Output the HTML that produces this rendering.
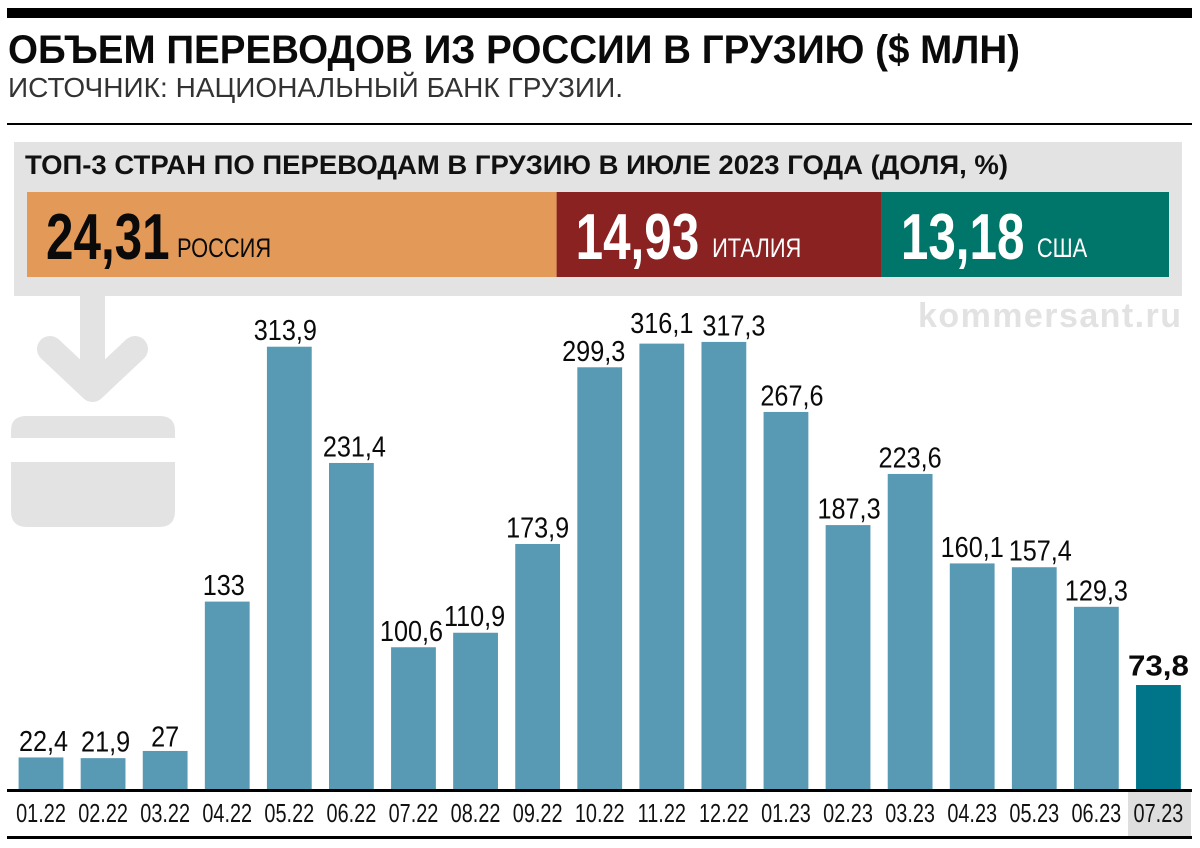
<!DOCTYPE html>
<html lang="ru">
<head>
<meta charset="utf-8">
<title>Объем переводов из России в Грузию</title>
<style>
html,body{margin:0;padding:0;background:#fff;}
svg{display:block;}
text{font-family:"Liberation Sans",sans-serif;}
</style>
</head>
<body>
<svg id="chart" xmlns="http://www.w3.org/2000/svg" width="1200" height="848" viewBox="0 0 1200 848">
  <rect width="1200" height="848" fill="#ffffff"/>
  <rect x="7" y="8" width="1185" height="10" fill="#000"/>
  <text x="8" y="63" font-size="40" font-weight="700" fill="#0a0a0a" textLength="1012" lengthAdjust="spacingAndGlyphs">ОБЪЕМ ПЕРЕВОДОВ ИЗ РОССИИ В ГРУЗИЮ ($ МЛН)</text>
  <text x="8" y="97" font-size="28" fill="#333" textLength="615" lengthAdjust="spacing">ИСТОЧНИК: НАЦИОНАЛЬНЫЙ БАНК ГРУЗИИ.</text>
  <rect x="7" y="123" width="1185" height="2" fill="#000"/>

  <rect x="14" y="142" width="1168" height="154" fill="#e3e3e3"/>
  <text x="25" y="174" font-size="26.5" font-weight="700" fill="#111" textLength="983" lengthAdjust="spacingAndGlyphs">ТОП-3 СТРАН ПО ПЕРЕВОДАМ В ГРУЗИЮ В ИЮЛЕ 2023 ГОДА (ДОЛЯ, %)</text>
  <g id="share-bar"></g>

  <g fill="#e3e3e3">
    <rect x="80" y="296" width="25" height="85"/>
    <polyline points="50,349 92.5,389 135,349" fill="none" stroke="#e3e3e3" stroke-width="26" stroke-linecap="round" stroke-linejoin="round"/>
    <path d="M11 438 V431 Q11 416 26 416 H160 Q175 416 175 431 V438 Z"/>
    <path d="M11 462 H175 V511 Q175 527 159 527 H27 Q11 527 11 511 Z"/>
  </g>

  <text x="918" y="327" font-size="34" font-weight="700" fill="#e2e2e2" textLength="263" lengthAdjust="spacing">kommersant.ru</text>

  <rect x="1128" y="792" width="63" height="44" fill="#dedede"/>
  <g id="bars"></g>
  <g id="value-labels"></g>
  <g id="x-labels"></g>
  <rect x="7" y="789" width="1185" height="3" fill="#000"/>
  <rect x="7" y="836" width="1185" height="3" fill="#000"/>
</svg>
<script>
const categories = ["01.22","02.22","03.22","04.22","05.22","06.22","07.22","08.22","09.22","10.22","11.22","12.22","01.23","02.23","03.23","04.23","05.23","06.23","07.23"];
const transfers = [22.4,21.9,27,133,313.9,231.4,100.6,110.9,173.9,299.3,316.1,317.3,267.6,187.3,223.6,160.1,157.4,129.3,73.8];
const shareValues = [24.31,14.93,13.18];
const shareCountries = ["РОССИЯ","ИТАЛИЯ","США"];

const NS = "http://www.w3.org/2000/svg";
const baseY = 789, pxPerUnit = 1.409;
const firstBarX = 18.6, barStep = 62.08, barW = 44.8;
const yScale = v => baseY - v * pxPerUnit;
const xScale = i => firstBarX + i * barStep;

// Hand-placement of individual value labels, as in the print layout (layout only, keyed by month).
const labelNudgeX = {"01.22":2.5,"02.22":2.5,"04.22":-3.5,"05.22":-4,"06.22":3,"07.22":-2,"08.22":-1,"10.22":-6,"12.22":10,"01.23":6,"02.23":1,"05.23":6};
const labelRaise = {"03.22":-2,"11.22":4,"07.23":3};

const shareX0 = 27, shareW = 1142, shareY = 192, shareH = 85;
const shareTotal = shareValues.reduce((a, b) => a + b, 0);
const shareScale = v => v / shareTotal * shareW;
const shareFill = ["#e39a58", "#8a2222", "#00766a"];
const shareInk = ["#0a0a0a", "#ffffff", "#ffffff"];

function svgEl(tag, attrs, parent, txt) {
  const el = document.createElementNS(NS, tag);
  for (const k in attrs) el.setAttribute(k, attrs[k]);
  if (txt !== undefined) el.textContent = txt;
  parent.appendChild(el);
  return el;
}

const shareBar = document.getElementById("share-bar");
let shareCursor = shareX0;
shareValues.forEach((v, i) => {
  const w = shareScale(v);
  const seg = svgEl("rect", {x: shareCursor, y: shareY, width: w, height: shareH, fill: shareFill[i]}, shareBar);
  
  
  const num = svgEl("text", {
    transform: `translate(${shareCursor + 19},259) scale(0.76,1)`,
    "font-size": 65, "font-weight": 700, fill: shareInk[i]
  }, shareBar, v.toFixed(2).replace(".", ","));
  
  
  const name = svgEl("text", {
    transform: `translate(${shareCursor + (i === 0 ? 150 : i === 1 ? 155.5 : 155)},257) scale(0.81,1)`,
    "font-size": 27, fill: shareInk[i]
  }, shareBar, shareCountries[i]);
  
  
  shareCursor += w;
});

const barsG = document.getElementById("bars");
const valuesG = document.getElementById("value-labels");
const xLabelsG = document.getElementById("x-labels");
const lastIndex = transfers.length - 1;
transfers.forEach((v, i) => {
  const x = xScale(i), y = yScale(v), cx = x + barW / 2, latest = i === lastIndex;
  const bar = svgEl("rect", {x: x, y: y, width: barW, height: baseY - y, fill: latest ? "#00758a" : "#5899b3"}, barsG);
  
  
  const lx = cx + (labelNudgeX[categories[i]] || 0);
  const ly = y - 6.5 - (labelRaise[categories[i]] || 0);
  const label = svgEl("text", {
    transform: `translate(${lx},${ly}) scale(${latest ? 1.08 : 0.87},1)`,
    "text-anchor": "middle", "font-size": 29, "font-weight": latest ? 700 : 400, fill: "#0a0a0a"
  }, valuesG, String(v).replace(".", ","));
  
  
  const tick = svgEl("text", {
    transform: `translate(${cx},822) scale(0.78,1)`,
    "text-anchor": "middle", "font-size": 25.5, fill: "#111"
  }, xLabelsG, categories[i]);
  
  
});
</script>
</body>
</html>
